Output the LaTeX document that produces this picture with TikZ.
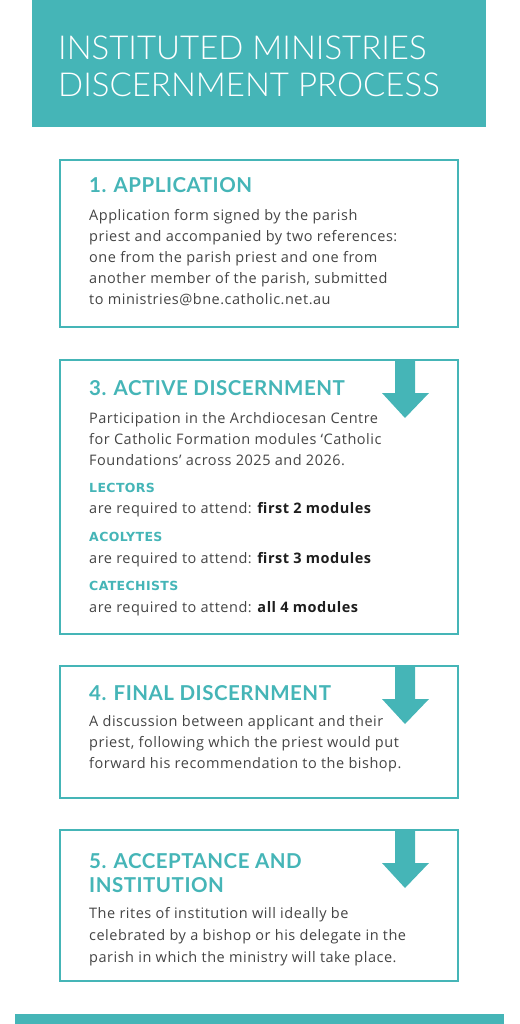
\documentclass[tikz,border=0pt]{standalone}
\usepackage{fontspec}
\setmainfont{Lato}
\newfontfamily\headfont{Lato}[LetterSpace=2.4]
\newfontfamily\bodyfont{Open Sans}[LetterSpace=3.5]
\newfontfamily\rolefont{DejaVu Sans}[LetterSpace=3]
\IfFontExistsTF{Lato Light}{\newfontfamily\titlefont{Lato Light}}{\newfontfamily\titlefont{Lato}}
\definecolor{tealmain}{HTML}{45B5B7}
\definecolor{bodygray}{HTML}{444444}
\definecolor{strongdark}{HTML}{1E1E1E}
\begin{document}
\begin{tikzpicture}[x=1pt,y=-1pt,
  stepbox/.style={draw=tealmain,line width=1.5pt,outer sep=0pt,inner sep=0pt,minimum width=398pt,anchor=north west},
  steptitle/.style={anchor=base west,inner sep=0pt,text=tealmain,font=\headfont\bfseries\fontsize{20.5}{24}\selectfont,align=left},
  steptext/.style={anchor=base west,inner sep=0pt,text=bodygray,font=\bodyfont\fontsize{14.5}{21}\selectfont,align=left},
  rolename/.style={anchor=base west,inner sep=0pt,text=tealmain,font=\rolefont\bfseries\fontsize{12.5}{15}\selectfont},
  arrowfill/.style={fill=tealmain}]
\useasboundingbox (0,0) rectangle (519,1024);
% Banner
\node[fill=tealmain,inner sep=0pt,outer sep=0pt,minimum width=454pt,minimum height=127pt,anchor=north west] (banner) at (32,0) {};
\node[anchor=base west,inner sep=0pt,text=white,font=\titlefont\fontsize{33}{37}\selectfont] (title1) at (58,60) {INSTITUTED MINISTRIES};
\node[anchor=base west,inner sep=0pt,text=white,font=\titlefont\fontsize{33}{37}\selectfont] (title2) at (58,97) {DISCERNMENT PROCESS};
% Step 1 (multi-line texts sit on their last baseline)
\node[stepbox,minimum height=167pt] (box1) at (60,160) {};
\node[steptitle] (head1) at (89,193) {1. APPLICATION};
\node[steptext] (text1) at (89,304) {Application form signed by the parish\\priest and accompanied by two references:\\one from the parish priest and one from\\another member of the parish, submitted\\to ministries@bne.catholic.net.au};
% Step 3
\node[stepbox,minimum height=274pt] (box3) at (60,360) {};
\fill[arrowfill] ([xshift=-63pt]box3.north east) -- ++(20,0) -- ++(0,33) -- ++(14,0) -- ++(-24,25) -- ++(-23,-25) -- ++(13,0) -- cycle;
\node[steptitle] (head3) at (89,395) {3. ACTIVE DISCERNMENT};
\node[steptext] (text3) at (89,465) {Participation in the Archdiocesan Centre\\for Catholic Formation modules ‘Catholic\\Foundations’ across 2025 and 2026.};
\node[rolename] (lectors) at (89,492) {LECTORS};
\node[steptext] (lectreq) at (89,513) {are required to attend: \textcolor{strongdark}{\bfseries first 2 modules}};
\node[rolename] (acolytes) at (89,541) {ACOLYTES};
\node[steptext] (acolreq) at (89,563) {are required to attend: \textcolor{strongdark}{\bfseries first 3 modules}};
\node[rolename] (catechists) at (89,590) {CATECHISTS};
\node[steptext] (catreq) at (89,612) {are required to attend: \textcolor{strongdark}{\bfseries all 4 modules}};
% Step 4
\node[stepbox,minimum height=132pt] (box4) at (60,666) {};
\fill[arrowfill] ([xshift=-63pt]box4.north east) -- ++(20,0) -- ++(0,33) -- ++(14,0) -- ++(-24,25) -- ++(-23,-25) -- ++(13,0) -- cycle;
\node[steptitle] (head4) at (89,700) {4. FINAL DISCERNMENT};
\node[steptext] (text4) at (89,768) {A discussion between applicant and their\\priest, following which the priest would put\\forward his recommendation to the bishop.};
% Step 5
\node[stepbox,minimum height=151pt] (box5) at (60,830) {};
\fill[arrowfill] ([xshift=-63pt]box5.north east) -- ++(20,0) -- ++(0,33) -- ++(14,0) -- ++(-24,25) -- ++(-23,-25) -- ++(13,0) -- cycle;
\node[steptitle] (head5) at (89,892) {5. ACCEPTANCE AND\\INSTITUTION};
\node[steptext,font=\bodyfont\fontsize{14.5}{22}\selectfont] (text5) at (89,962) {The rites of institution will ideally be\\celebrated by a bishop or his delegate in the\\parish in which the ministry will take place.};
% Footer bar
\node[fill=tealmain,inner sep=0pt,outer sep=0pt,minimum width=489pt,minimum height=10pt,anchor=north west] (footer) at (15,1014) {};
\end{tikzpicture}
\end{document}
